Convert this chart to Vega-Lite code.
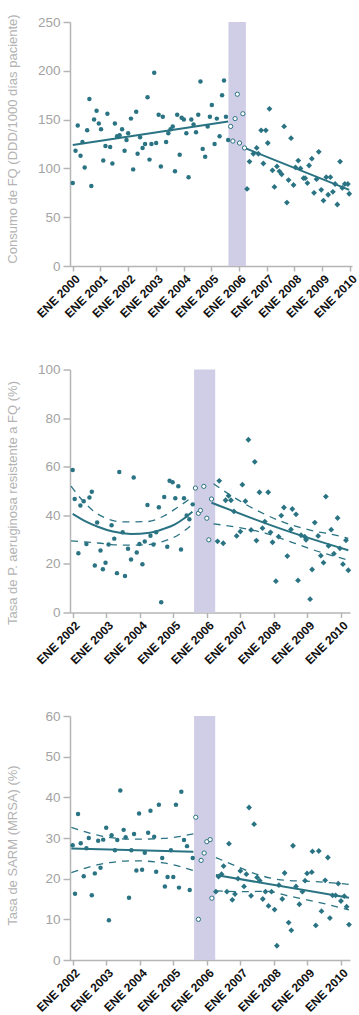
{
  "$schema": "https://vega.github.io/schema/vega-lite/v6.json",
  "padding": {"left": 6, "top": 13, "right": 0, "bottom": 0},
  "bounds": "flush",
  "spacing": 103.5,
  "config": {
    "view": {"stroke": null},
    "axis": {
      "grid": false,
      "domainColor": "#b5b5b5",
      "tickColor": "#b5b5b5",
      "domainWidth": 1.5,
      "tickWidth": 1.5
    },
    "axisY": {
      "labelFont": "Liberation Sans Narrow, Liberation Sans",
      "labelFontSize": 13.5,
      "labelColor": "#a3a3a3",
      "labelPadding": 3,
      "tickSize": 7,
      "titleFont": "Liberation Sans",
      "titleFontSize": 13,
      "titleFontWeight": "normal",
      "titleColor": "#b3b3b3",
      "titleAngle": -90,
      "titleBaseline": "bottom",
      "titleX": -50.5
    },
    "axisX": {
      "labelFont": "Liberation Sans Narrow, Liberation Sans",
      "labelFontSize": 12,
      "labelFontWeight": "bold",
      "labelColor": "#111111",
      "labelPadding": 2,
      "labelOffset": 1,
      "tickSize": 5,
      "title": null
    }
  },
  "datasets": {
    "fq": [
      {"t": 2000.0, "v": 85, "g": "pre"}, {"t": 2000.1, "v": 118, "g": "pre"}, {"t": 2000.18, "v": 144, "g": "pre"}, {"t": 2000.28, "v": 113, "g": "pre"},
      {"t": 2000.35, "v": 127, "g": "pre"}, {"t": 2000.43, "v": 101, "g": "pre"}, {"t": 2000.52, "v": 139, "g": "pre"}, {"t": 2000.6, "v": 171, "g": "pre"},
      {"t": 2000.67, "v": 82, "g": "pre"}, {"t": 2000.77, "v": 150, "g": "pre"}, {"t": 2000.86, "v": 159, "g": "pre"}, {"t": 2000.94, "v": 146, "g": "pre"},
      {"t": 2001.02, "v": 140, "g": "pre"}, {"t": 2001.1, "v": 108, "g": "pre"}, {"t": 2001.18, "v": 123, "g": "pre"}, {"t": 2001.25, "v": 156, "g": "pre"},
      {"t": 2001.35, "v": 122, "g": "pre"}, {"t": 2001.43, "v": 105, "g": "pre"}, {"t": 2001.52, "v": 146, "g": "pre"}, {"t": 2001.6, "v": 133, "g": "pre"},
      {"t": 2001.69, "v": 134, "g": "pre"}, {"t": 2001.78, "v": 140, "g": "pre"}, {"t": 2001.87, "v": 118, "g": "pre"}, {"t": 2001.94, "v": 129, "g": "pre"},
      {"t": 2002.0, "v": 136, "g": "pre"}, {"t": 2002.1, "v": 151, "g": "pre"}, {"t": 2002.18, "v": 99, "g": "pre"}, {"t": 2002.29, "v": 158, "g": "pre"},
      {"t": 2002.34, "v": 115, "g": "pre"}, {"t": 2002.43, "v": 132, "g": "pre"}, {"t": 2002.52, "v": 121, "g": "pre"}, {"t": 2002.61, "v": 125, "g": "pre"},
      {"t": 2002.7, "v": 173, "g": "pre"}, {"t": 2002.77, "v": 109, "g": "pre"}, {"t": 2002.84, "v": 125, "g": "pre"}, {"t": 2002.94, "v": 198, "g": "pre"},
      {"t": 2003.01, "v": 126, "g": "pre"}, {"t": 2003.1, "v": 155, "g": "pre"}, {"t": 2003.18, "v": 102, "g": "pre"}, {"t": 2003.25, "v": 153, "g": "pre"},
      {"t": 2003.37, "v": 127, "g": "pre"}, {"t": 2003.45, "v": 136, "g": "pre"}, {"t": 2003.53, "v": 140, "g": "pre"}, {"t": 2003.61, "v": 143, "g": "pre"},
      {"t": 2003.69, "v": 97, "g": "pre"}, {"t": 2003.77, "v": 155, "g": "pre"}, {"t": 2003.86, "v": 114, "g": "pre"}, {"t": 2003.93, "v": 152, "g": "pre"},
      {"t": 2004.01, "v": 150, "g": "pre"}, {"t": 2004.1, "v": 136, "g": "pre"}, {"t": 2004.18, "v": 91, "g": "pre"}, {"t": 2004.28, "v": 150, "g": "pre"},
      {"t": 2004.36, "v": 145, "g": "pre"}, {"t": 2004.45, "v": 137, "g": "pre"}, {"t": 2004.53, "v": 155, "g": "pre"}, {"t": 2004.61, "v": 189, "g": "pre"},
      {"t": 2004.69, "v": 120, "g": "pre"}, {"t": 2004.78, "v": 112, "g": "pre"}, {"t": 2004.87, "v": 143, "g": "pre"}, {"t": 2004.95, "v": 153, "g": "pre"},
      {"t": 2005.02, "v": 165, "g": "pre"}, {"t": 2005.12, "v": 125, "g": "pre"}, {"t": 2005.2, "v": 151, "g": "pre"}, {"t": 2005.3, "v": 133, "g": "pre"},
      {"t": 2005.39, "v": 175, "g": "pre"}, {"t": 2005.46, "v": 190, "g": "pre"}, {"t": 2005.53, "v": 153, "g": "pre"}, {"t": 2005.61, "v": 129, "g": "pre"},
      {"t": 2005.7, "v": 143, "g": "int"}, {"t": 2005.78, "v": 128, "g": "int"}, {"t": 2005.86, "v": 151, "g": "int"}, {"t": 2005.94, "v": 176, "g": "int"},
      {"t": 2006.02, "v": 126, "g": "int"}, {"t": 2006.14, "v": 156, "g": "int"}, {"t": 2006.2, "v": 121, "g": "int"},
      {"t": 2006.29, "v": 79, "g": "post"}, {"t": 2006.38, "v": 107, "g": "post"}, {"t": 2006.52, "v": 115, "g": "post"}, {"t": 2006.64, "v": 121, "g": "post"},
      {"t": 2006.7, "v": 115, "g": "post"}, {"t": 2006.8, "v": 139, "g": "post"}, {"t": 2006.88, "v": 105, "g": "post"}, {"t": 2006.97, "v": 139, "g": "post"},
      {"t": 2007.04, "v": 126, "g": "post"}, {"t": 2007.1, "v": 161, "g": "post"}, {"t": 2007.21, "v": 98, "g": "post"}, {"t": 2007.28, "v": 81, "g": "post"},
      {"t": 2007.37, "v": 102, "g": "post"}, {"t": 2007.46, "v": 97, "g": "post"}, {"t": 2007.54, "v": 94, "g": "post"}, {"t": 2007.63, "v": 143, "g": "post"},
      {"t": 2007.73, "v": 65, "g": "post"}, {"t": 2007.79, "v": 88, "g": "post"}, {"t": 2007.88, "v": 131, "g": "post"}, {"t": 2007.97, "v": 83, "g": "post"},
      {"t": 2008.04, "v": 101, "g": "post"}, {"t": 2008.14, "v": 108, "g": "post"}, {"t": 2008.22, "v": 100, "g": "post"}, {"t": 2008.33, "v": 90, "g": "post"},
      {"t": 2008.39, "v": 90, "g": "post"}, {"t": 2008.47, "v": 85, "g": "post"}, {"t": 2008.53, "v": 103, "g": "post"}, {"t": 2008.63, "v": 110, "g": "post"},
      {"t": 2008.71, "v": 75, "g": "post"}, {"t": 2008.8, "v": 89, "g": "post"}, {"t": 2008.88, "v": 117, "g": "post"}, {"t": 2008.97, "v": 78, "g": "post"},
      {"t": 2009.05, "v": 67, "g": "post"}, {"t": 2009.15, "v": 91, "g": "post"}, {"t": 2009.22, "v": 73, "g": "post"}, {"t": 2009.3, "v": 91, "g": "post"},
      {"t": 2009.39, "v": 76, "g": "post"}, {"t": 2009.47, "v": 84, "g": "post"}, {"t": 2009.55, "v": 63, "g": "post"}, {"t": 2009.65, "v": 107, "g": "post"},
      {"t": 2009.73, "v": 80, "g": "post"}, {"t": 2009.82, "v": 84, "g": "post"}, {"t": 2009.93, "v": 84, "g": "post"}, {"t": 2009.98, "v": 74, "g": "post"}
    ],
    "fqfit": [
      {"t": 2000.0, "v": 124, "s": "a", "k": "fit"}, {"t": 2005.61, "v": 148, "s": "a", "k": "fit"},
      {"t": 2006.2, "v": 121, "s": "b", "k": "fit"}, {"t": 2009.98, "v": 78, "s": "b", "k": "fit"}
    ],
    "pa": [
      {"t": 2002.0, "v": 58.6, "g": "pre"}, {"t": 2002.06, "v": 46.7, "g": "pre"}, {"t": 2002.17, "v": 24.4, "g": "pre"}, {"t": 2002.23, "v": 44, "g": "pre"},
      {"t": 2002.33, "v": 45.8, "g": "pre"}, {"t": 2002.41, "v": 28.2, "g": "pre"}, {"t": 2002.5, "v": 47.3, "g": "pre"}, {"t": 2002.57, "v": 49.7, "g": "pre"},
      {"t": 2002.66, "v": 19.3, "g": "pre"}, {"t": 2002.73, "v": 37, "g": "pre"}, {"t": 2002.83, "v": 25.5, "g": "pre"}, {"t": 2002.9, "v": 17.8, "g": "pre"},
      {"t": 2002.98, "v": 20.5, "g": "pre"}, {"t": 2003.07, "v": 28, "g": "pre"}, {"t": 2003.16, "v": 35.9, "g": "pre"}, {"t": 2003.24, "v": 30.4, "g": "pre"},
      {"t": 2003.32, "v": 16.2, "g": "pre"}, {"t": 2003.39, "v": 57.8, "g": "pre"}, {"t": 2003.49, "v": 33, "g": "pre"}, {"t": 2003.56, "v": 15, "g": "pre"},
      {"t": 2003.65, "v": 26.2, "g": "pre"}, {"t": 2003.74, "v": 21.8, "g": "pre"}, {"t": 2003.82, "v": 55.6, "g": "pre"}, {"t": 2003.91, "v": 24.7, "g": "pre"},
      {"t": 2003.99, "v": 28.2, "g": "pre"}, {"t": 2004.08, "v": 19.9, "g": "pre"}, {"t": 2004.15, "v": 29.2, "g": "pre"}, {"t": 2004.23, "v": 44.2, "g": "pre"},
      {"t": 2004.32, "v": 31.6, "g": "pre"}, {"t": 2004.41, "v": 28, "g": "pre"}, {"t": 2004.49, "v": 33, "g": "pre"}, {"t": 2004.57, "v": 43.3, "g": "pre"},
      {"t": 2004.64, "v": 4.2, "g": "pre"}, {"t": 2004.73, "v": 47.5, "g": "pre"}, {"t": 2004.82, "v": 27.1, "g": "pre"}, {"t": 2004.89, "v": 54.2, "g": "pre"},
      {"t": 2004.98, "v": 53.6, "g": "pre"}, {"t": 2005.06, "v": 47, "g": "pre"}, {"t": 2005.15, "v": 52, "g": "pre"}, {"t": 2005.23, "v": 25.9, "g": "pre"},
      {"t": 2005.32, "v": 47, "g": "pre"}, {"t": 2005.4, "v": 39.9, "g": "pre"}, {"t": 2005.48, "v": 38.4, "g": "pre"}, {"t": 2005.58, "v": 44.5, "g": "pre"},
      {"t": 2005.66, "v": 51.2, "g": "int"}, {"t": 2005.75, "v": 40.8, "g": "int"}, {"t": 2005.81, "v": 42, "g": "int"}, {"t": 2005.91, "v": 51.9, "g": "int"},
      {"t": 2006.0, "v": 38.8, "g": "int"}, {"t": 2006.06, "v": 29.9, "g": "int"}, {"t": 2006.14, "v": 46.7, "g": "int"},
      {"t": 2006.32, "v": 29.3, "g": "post"}, {"t": 2006.37, "v": 54.2, "g": "post"}, {"t": 2006.49, "v": 28.5, "g": "post"}, {"t": 2006.56, "v": 46.2, "g": "post"},
      {"t": 2006.65, "v": 48, "g": "post"}, {"t": 2006.72, "v": 46.2, "g": "post"}, {"t": 2006.81, "v": 41.6, "g": "post"}, {"t": 2006.89, "v": 31.5, "g": "post"},
      {"t": 2007.0, "v": 33.3, "g": "post"}, {"t": 2007.06, "v": 52.6, "g": "post"}, {"t": 2007.15, "v": 45.8, "g": "post"}, {"t": 2007.24, "v": 71.1, "g": "post"},
      {"t": 2007.32, "v": 34, "g": "post"}, {"t": 2007.43, "v": 62, "g": "post"}, {"t": 2007.48, "v": 29.6, "g": "post"}, {"t": 2007.57, "v": 49.5, "g": "post"},
      {"t": 2007.66, "v": 34.7, "g": "post"}, {"t": 2007.73, "v": 37.4, "g": "post"}, {"t": 2007.83, "v": 49.5, "g": "post"}, {"t": 2007.9, "v": 33, "g": "post"},
      {"t": 2007.96, "v": 28.9, "g": "post"}, {"t": 2008.06, "v": 12.9, "g": "post"}, {"t": 2008.14, "v": 31.2, "g": "post"}, {"t": 2008.22, "v": 39.9, "g": "post"},
      {"t": 2008.3, "v": 43.2, "g": "post"}, {"t": 2008.4, "v": 23.2, "g": "post"}, {"t": 2008.51, "v": 34.2, "g": "post"}, {"t": 2008.55, "v": 42.6, "g": "post"},
      {"t": 2008.66, "v": 40.4, "g": "post"}, {"t": 2008.72, "v": 13.2, "g": "post"}, {"t": 2008.81, "v": 31.8, "g": "post"}, {"t": 2008.92, "v": 31.2, "g": "post"},
      {"t": 2008.96, "v": 29.9, "g": "post"}, {"t": 2009.08, "v": 5.5, "g": "post"}, {"t": 2009.14, "v": 17.7, "g": "post"}, {"t": 2009.22, "v": 37, "g": "post"},
      {"t": 2009.32, "v": 31.5, "g": "post"}, {"t": 2009.4, "v": 23.4, "g": "post"}, {"t": 2009.48, "v": 20.5, "g": "post"}, {"t": 2009.55, "v": 47.7, "g": "post"},
      {"t": 2009.63, "v": 27.4, "g": "post"}, {"t": 2009.71, "v": 34.1, "g": "post"}, {"t": 2009.79, "v": 24.2, "g": "post"}, {"t": 2009.9, "v": 38.9, "g": "post"},
      {"t": 2009.97, "v": 26.4, "g": "post"}, {"t": 2010.06, "v": 19.9, "g": "post"}, {"t": 2010.15, "v": 29.7, "g": "post"}, {"t": 2010.22, "v": 17.4, "g": "post"}
    ],
    "pafit": [
      {"t": 2002.0, "v": 40.6, "s": "a", "k": "fit"}, {"t": 2002.4, "v": 37.4, "s": "a", "k": "fit"}, {"t": 2002.75, "v": 35.3, "s": "a", "k": "fit"},
      {"t": 2003.2, "v": 33.3, "s": "a", "k": "fit"}, {"t": 2003.74, "v": 32.3, "s": "a", "k": "fit"}, {"t": 2004.3, "v": 32.8, "s": "a", "k": "fit"},
      {"t": 2004.73, "v": 34.5, "s": "a", "k": "fit"}, {"t": 2005.05, "v": 36.3, "s": "a", "k": "fit"}, {"t": 2005.33, "v": 38.8, "s": "a", "k": "fit"},
      {"t": 2005.57, "v": 41.5, "s": "a", "k": "fit"},
      {"t": 2006.14, "v": 45.2, "s": "b", "k": "fit"}, {"t": 2008.26, "v": 34.2, "s": "b", "k": "fit"}, {"t": 2010.22, "v": 25.6, "s": "b", "k": "fit"},
      {"t": 2001.95, "v": 52, "s": "au", "k": "ci"}, {"t": 2002.3, "v": 46, "s": "au", "k": "ci"}, {"t": 2002.75, "v": 40.5, "s": "au", "k": "ci"},
      {"t": 2003.5, "v": 37.3, "s": "au", "k": "ci"}, {"t": 2004.2, "v": 37.4, "s": "au", "k": "ci"}, {"t": 2004.73, "v": 39.8, "s": "au", "k": "ci"},
      {"t": 2005.1, "v": 43, "s": "au", "k": "ci"}, {"t": 2005.57, "v": 47.5, "s": "au", "k": "ci"},
      {"t": 2001.95, "v": 29.5, "s": "al", "k": "ci"}, {"t": 2002.75, "v": 28.6, "s": "al", "k": "ci"}, {"t": 2003.5, "v": 27.7, "s": "al", "k": "ci"},
      {"t": 2004.2, "v": 27.9, "s": "al", "k": "ci"}, {"t": 2004.7, "v": 29.3, "s": "al", "k": "ci"}, {"t": 2005.1, "v": 31.5, "s": "al", "k": "ci"},
      {"t": 2005.57, "v": 36.3, "s": "al", "k": "ci"},
      {"t": 2006.2, "v": 53, "s": "bu", "k": "ci"}, {"t": 2006.77, "v": 47.7, "s": "bu", "k": "ci"}, {"t": 2007.57, "v": 41.5, "s": "bu", "k": "ci"},
      {"t": 2008.26, "v": 37.3, "s": "bu", "k": "ci"}, {"t": 2009.05, "v": 34, "s": "bu", "k": "ci"}, {"t": 2009.95, "v": 31.5, "s": "bu", "k": "ci"},
      {"t": 2010.22, "v": 30.5, "s": "bu", "k": "ci"},
      {"t": 2006.2, "v": 36.5, "s": "bl", "k": "ci"}, {"t": 2006.97, "v": 34.9, "s": "bl", "k": "ci"}, {"t": 2007.76, "v": 32.6, "s": "bl", "k": "ci"},
      {"t": 2008.56, "v": 28.8, "s": "bl", "k": "ci"}, {"t": 2009.35, "v": 25, "s": "bl", "k": "ci"}, {"t": 2010.22, "v": 21.6, "s": "bl", "k": "ci"}
    ],
    "mrsa": [
      {"t": 2002.0, "v": 28.2, "g": "pre"}, {"t": 2002.07, "v": 16.3, "g": "pre"}, {"t": 2002.16, "v": 35.9, "g": "pre"}, {"t": 2002.24, "v": 28.7, "g": "pre"},
      {"t": 2002.33, "v": 20.6, "g": "pre"}, {"t": 2002.41, "v": 27.5, "g": "pre"}, {"t": 2002.48, "v": 30, "g": "pre"}, {"t": 2002.57, "v": 15.9, "g": "pre"},
      {"t": 2002.66, "v": 21.3, "g": "pre"}, {"t": 2002.76, "v": 29.3, "g": "pre"}, {"t": 2002.83, "v": 22.7, "g": "pre"}, {"t": 2002.91, "v": 29.6, "g": "pre"},
      {"t": 2003.0, "v": 32.5, "g": "pre"}, {"t": 2003.08, "v": 9.8, "g": "pre"}, {"t": 2003.16, "v": 30.7, "g": "pre"}, {"t": 2003.26, "v": 27, "g": "pre"},
      {"t": 2003.33, "v": 29.5, "g": "pre"}, {"t": 2003.42, "v": 41.7, "g": "pre"}, {"t": 2003.52, "v": 32, "g": "pre"}, {"t": 2003.58, "v": 30.2, "g": "pre"},
      {"t": 2003.68, "v": 15.3, "g": "pre"}, {"t": 2003.75, "v": 27, "g": "pre"}, {"t": 2003.83, "v": 31, "g": "pre"}, {"t": 2003.9, "v": 22, "g": "pre"},
      {"t": 2003.98, "v": 36, "g": "pre"}, {"t": 2004.07, "v": 22.2, "g": "pre"}, {"t": 2004.15, "v": 26.4, "g": "pre"}, {"t": 2004.25, "v": 31.3, "g": "pre"},
      {"t": 2004.32, "v": 36.7, "g": "pre"}, {"t": 2004.43, "v": 30.3, "g": "pre"}, {"t": 2004.49, "v": 21.7, "g": "pre"}, {"t": 2004.57, "v": 38.2, "g": "pre"},
      {"t": 2004.67, "v": 25.1, "g": "pre"}, {"t": 2004.75, "v": 18.1, "g": "pre"}, {"t": 2004.83, "v": 20.4, "g": "pre"}, {"t": 2004.93, "v": 27, "g": "pre"},
      {"t": 2005.0, "v": 20.4, "g": "pre"}, {"t": 2005.08, "v": 38.2, "g": "pre"}, {"t": 2005.17, "v": 17.8, "g": "pre"}, {"t": 2005.24, "v": 41.4, "g": "pre"},
      {"t": 2005.32, "v": 29.5, "g": "pre"}, {"t": 2005.41, "v": 28, "g": "pre"}, {"t": 2005.49, "v": 17.2, "g": "pre"}, {"t": 2005.58, "v": 25.1, "g": "pre"},
      {"t": 2005.67, "v": 35.1, "g": "int"}, {"t": 2005.75, "v": 10, "g": "int"}, {"t": 2005.83, "v": 24.5, "g": "int"}, {"t": 2005.92, "v": 26.3, "g": "int"},
      {"t": 2006.0, "v": 29.1, "g": "int"}, {"t": 2006.1, "v": 29.6, "g": "int"}, {"t": 2006.15, "v": 15.2, "g": "int"},
      {"t": 2006.27, "v": 16.8, "g": "post"}, {"t": 2006.35, "v": 20.5, "g": "post"}, {"t": 2006.44, "v": 21.1, "g": "post"}, {"t": 2006.5, "v": 23.1, "g": "post"},
      {"t": 2006.6, "v": 16.8, "g": "post"}, {"t": 2006.66, "v": 28.6, "g": "post"}, {"t": 2006.76, "v": 14.8, "g": "post"}, {"t": 2006.84, "v": 16.2, "g": "post"},
      {"t": 2006.93, "v": 20, "g": "post"}, {"t": 2007.0, "v": 21.9, "g": "post"}, {"t": 2007.11, "v": 18.1, "g": "post"}, {"t": 2007.18, "v": 21.1, "g": "post"},
      {"t": 2007.26, "v": 37.5, "g": "post"}, {"t": 2007.32, "v": 15.8, "g": "post"}, {"t": 2007.41, "v": 33.4, "g": "post"}, {"t": 2007.5, "v": 20.3, "g": "post"},
      {"t": 2007.58, "v": 19.5, "g": "post"}, {"t": 2007.67, "v": 15, "g": "post"}, {"t": 2007.75, "v": 16.8, "g": "post"}, {"t": 2007.84, "v": 13.3, "g": "post"},
      {"t": 2007.93, "v": 16.8, "g": "post"}, {"t": 2008.02, "v": 12.4, "g": "post"}, {"t": 2008.09, "v": 3.5, "g": "post"}, {"t": 2008.15, "v": 18.4, "g": "post"},
      {"t": 2008.25, "v": 15, "g": "post"}, {"t": 2008.32, "v": 21.4, "g": "post"}, {"t": 2008.44, "v": 9.2, "g": "post"}, {"t": 2008.52, "v": 7.3, "g": "post"},
      {"t": 2008.57, "v": 28.1, "g": "post"}, {"t": 2008.66, "v": 18.1, "g": "post"}, {"t": 2008.76, "v": 13.7, "g": "post"}, {"t": 2008.85, "v": 16.8, "g": "post"},
      {"t": 2008.93, "v": 19.5, "g": "post"}, {"t": 2008.99, "v": 21.3, "g": "post"}, {"t": 2009.13, "v": 21.6, "g": "post"}, {"t": 2009.15, "v": 26.7, "g": "post"},
      {"t": 2009.25, "v": 8.5, "g": "post"}, {"t": 2009.34, "v": 26.8, "g": "post"}, {"t": 2009.42, "v": 12, "g": "post"}, {"t": 2009.53, "v": 19.6, "g": "post"},
      {"t": 2009.61, "v": 25.2, "g": "post"}, {"t": 2009.67, "v": 10.3, "g": "post"}, {"t": 2009.75, "v": 15.9, "g": "post"}, {"t": 2009.84, "v": 15.9, "g": "post"},
      {"t": 2009.92, "v": 18.8, "g": "post"}, {"t": 2010.0, "v": 14.5, "g": "post"}, {"t": 2010.1, "v": 15.7, "g": "post"}, {"t": 2010.17, "v": 13.1, "g": "post"},
      {"t": 2010.24, "v": 8.7, "g": "post"}
    ],
    "mrsafit": [
      {"t": 2001.96, "v": 27.4, "s": "a", "k": "fit"}, {"t": 2005.6, "v": 26.6, "s": "a", "k": "fit"},
      {"t": 2006.27, "v": 20.9, "s": "b", "k": "fit"}, {"t": 2010.24, "v": 15.3, "s": "b", "k": "fit"},
      {"t": 2001.96, "v": 32.6, "s": "au", "k": "ci"}, {"t": 2002.8, "v": 30.6, "s": "au", "k": "ci"}, {"t": 2003.8, "v": 29.7, "s": "au", "k": "ci"},
      {"t": 2004.7, "v": 29.9, "s": "au", "k": "ci"}, {"t": 2005.6, "v": 31, "s": "au", "k": "ci"},
      {"t": 2001.96, "v": 21.5, "s": "al", "k": "ci"}, {"t": 2002.8, "v": 23.5, "s": "al", "k": "ci"}, {"t": 2003.8, "v": 24.4, "s": "al", "k": "ci"},
      {"t": 2004.7, "v": 23.9, "s": "al", "k": "ci"}, {"t": 2005.6, "v": 22, "s": "al", "k": "ci"},
      {"t": 2006.27, "v": 25.2, "s": "bu", "k": "ci"}, {"t": 2006.73, "v": 23.6, "s": "bu", "k": "ci"}, {"t": 2007.48, "v": 21.1, "s": "bu", "k": "ci"},
      {"t": 2008.32, "v": 19.6, "s": "bu", "k": "ci"}, {"t": 2009.16, "v": 19.3, "s": "bu", "k": "ci"}, {"t": 2010.24, "v": 18.6, "s": "bu", "k": "ci"},
      {"t": 2006.27, "v": 17, "s": "bl", "k": "ci"}, {"t": 2007.1, "v": 16.8, "s": "bl", "k": "ci"}, {"t": 2007.8, "v": 16.9, "s": "bl", "k": "ci"},
      {"t": 2008.4, "v": 15.8, "s": "bl", "k": "ci"}, {"t": 2009.16, "v": 14.5, "s": "bl", "k": "ci"}, {"t": 2010.24, "v": 12.3, "s": "bl", "k": "ci"}
    ],
    "band1": [{"t": 2005.62, "t2": 2006.25, "v": 0, "v2": 250}],
    "band2": [{"t": 2005.62, "t2": 2006.25, "v": 0, "v2": 100}],
    "band3": [{"t": 2005.62, "t2": 2006.25, "v": 0, "v2": 60}]
  },
  "vconcat": [
    {
      "width": 282,
      "height": 244,
      "encoding": {
        "x": {"field": "t", "type": "quantitative", "scale": {"domain": [1999.9, 2010.08], "nice": false, "zero": false},
              "axis": {"values": [2000, 2001, 2002, 2003, 2004, 2005, 2006, 2007, 2008, 2009, 2010], "labelAngle": -45, "labelOverlap": false, "labelBound": false, "labelExpr": "'ENE ' + format(datum.value, 'd')"}},
        "y": {"field": "v", "type": "quantitative", "scale": {"domain": [0, 250], "nice": false},
              "axis": {"values": [0, 50, 100, 150, 200, 250], "title": "Consumo de FQ (DDD/1000 días paciente)", "titleY": 116.5}}
      },
      "layer": [
        {"data": {"name": "band1"}, "mark": {"type": "rect", "color": "#d0cde7"},
         "encoding": {"x2": {"field": "t2"}, "y2": {"field": "v2"}}},
        {"data": {"name": "fqfit"}, "transform": [{"filter": "datum.k == 'fit'"}], "mark": {"type": "line", "color": "#2a7383", "strokeWidth": 2},
         "encoding": {"detail": {"field": "s"}}},
        {"data": {"name": "fq"}, "transform": [{"filter": "datum.g == 'pre'"}], "mark": {"type": "circle", "color": "#2a7383", "size": 20, "opacity": 1}},
        {"data": {"name": "fq"}, "transform": [{"filter": "datum.g == 'int'"}], "mark": {"type": "point", "shape": "circle", "filled": false, "fill": "#ffffff", "stroke": "#2a7383", "strokeWidth": 1, "size": 18, "opacity": 1}},
        {"data": {"name": "fq"}, "transform": [{"filter": "datum.g == 'post'"}], "mark": {"type": "point", "shape": "diamond", "filled": true, "color": "#2a7383", "size": 34, "opacity": 1}}
      ]
    },
    {
      "width": 280,
      "height": 243,
      "encoding": {
        "x": {"field": "t", "type": "quantitative", "scale": {"domain": [2001.92, 2010.27], "nice": false, "zero": false},
              "axis": {"values": [2002, 2003, 2004, 2005, 2006, 2007, 2008, 2009, 2010], "labelAngle": -45, "labelOverlap": false, "labelBound": false, "labelExpr": "'ENE ' + format(datum.value, 'd')"}},
        "y": {"field": "v", "type": "quantitative", "scale": {"domain": [0, 100], "nice": false},
              "axis": {"values": [0, 20, 40, 60, 80, 100], "title": "Tasa de P. aeruginosa resistente a FQ (%)", "titleY": 133}}
      },
      "layer": [
        {"data": {"name": "band2"}, "mark": {"type": "rect", "color": "#d0cde7"},
         "encoding": {"x2": {"field": "t2"}, "y2": {"field": "v2"}}},
        {"data": {"name": "pafit"}, "transform": [{"filter": "datum.k == 'ci'"}], "mark": {"type": "line", "color": "#2a7383", "strokeWidth": 1.3, "strokeDash": [7, 6], "interpolate": "monotone"},
         "encoding": {"detail": {"field": "s"}}},
        {"data": {"name": "pafit"}, "transform": [{"filter": "datum.k == 'fit'"}], "mark": {"type": "line", "color": "#2a7383", "strokeWidth": 2, "interpolate": "monotone"},
         "encoding": {"detail": {"field": "s"}}},
        {"data": {"name": "pa"}, "transform": [{"filter": "datum.g == 'pre'"}], "mark": {"type": "circle", "color": "#2a7383", "size": 20, "opacity": 1}},
        {"data": {"name": "pa"}, "transform": [{"filter": "datum.g == 'int'"}], "mark": {"type": "point", "shape": "circle", "filled": false, "fill": "#ffffff", "stroke": "#2a7383", "strokeWidth": 1, "size": 18, "opacity": 1}},
        {"data": {"name": "pa"}, "transform": [{"filter": "datum.g == 'post'"}], "mark": {"type": "point", "shape": "diamond", "filled": true, "color": "#2a7383", "size": 34, "opacity": 1}}
      ]
    },
    {
      "width": 280,
      "height": 244,
      "encoding": {
        "x": {"field": "t", "type": "quantitative", "scale": {"domain": [2001.92, 2010.27], "nice": false, "zero": false},
              "axis": {"values": [2002, 2003, 2004, 2005, 2006, 2007, 2008, 2009, 2010], "labelAngle": -45, "labelOverlap": false, "labelBound": false, "labelExpr": "'ENE ' + format(datum.value, 'd')"}},
        "y": {"field": "v", "type": "quantitative", "scale": {"domain": [0, 60], "nice": false},
              "axis": {"values": [0, 10, 20, 30, 40, 50, 60], "title": "Tasa de SARM (MRSA) (%)", "titleY": 129}}
      },
      "layer": [
        {"data": {"name": "band3"}, "mark": {"type": "rect", "color": "#d0cde7"},
         "encoding": {"x2": {"field": "t2"}, "y2": {"field": "v2"}}},
        {"data": {"name": "mrsafit"}, "transform": [{"filter": "datum.k == 'ci'"}], "mark": {"type": "line", "color": "#2a7383", "strokeWidth": 1.3, "strokeDash": [7, 6], "interpolate": "monotone"},
         "encoding": {"detail": {"field": "s"}}},
        {"data": {"name": "mrsafit"}, "transform": [{"filter": "datum.k == 'fit'"}], "mark": {"type": "line", "color": "#2a7383", "strokeWidth": 2},
         "encoding": {"detail": {"field": "s"}}},
        {"data": {"name": "mrsa"}, "transform": [{"filter": "datum.g == 'pre'"}], "mark": {"type": "circle", "color": "#2a7383", "size": 20, "opacity": 1}},
        {"data": {"name": "mrsa"}, "transform": [{"filter": "datum.g == 'int'"}], "mark": {"type": "point", "shape": "circle", "filled": false, "fill": "#ffffff", "stroke": "#2a7383", "strokeWidth": 1, "size": 18, "opacity": 1}},
        {"data": {"name": "mrsa"}, "transform": [{"filter": "datum.g == 'post'"}], "mark": {"type": "point", "shape": "diamond", "filled": true, "color": "#2a7383", "size": 34, "opacity": 1}}
      ]
    }
  ]
}
